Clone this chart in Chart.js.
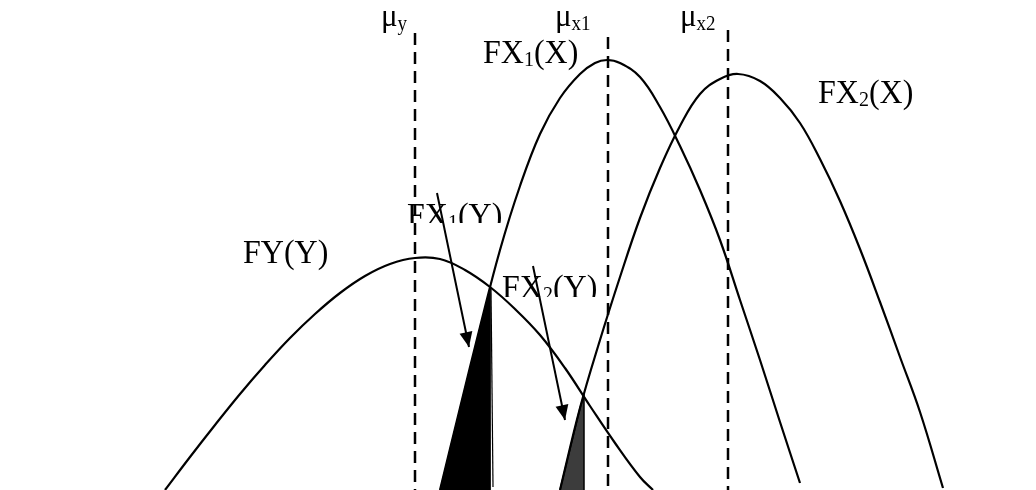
<!DOCTYPE html>
<html>
<head>
<meta charset="utf-8">
<script src="https://cdn.jsdelivr.net/npm/chart.js@4.4.1/dist/chart.umd.min.js"></script>
<style>
html,body{margin:0;padding:0;background:#fff;}
#wrap{width:1036px;height:490px;position:relative;}
</style>
</head>
<body>
<div id="wrap"><canvas id="c"></canvas></div>
<script>
// ---- data (x position, height above the base line) ----
const fyX  = [165, 190, 215, 240, 265, 290, 315, 340, 365, 390, 415, 440, 465, 490, 515, 540, 565, 590, 615, 640, 653];
const fyY  = [0,   33,  65,  96,  125, 152, 176, 197, 214, 226, 232, 231, 220, 203, 181, 155, 122, 84,  47,  13,  0];

const fx1X = [440, 460, 480, 500, 520, 540, 560, 580, 595, 607, 620, 640, 660, 680, 700, 720, 740, 760, 780, 800];
const fx1Y = [0,   82,  163, 240, 304, 356, 392, 416, 427, 430, 427, 413, 383, 344, 300, 250, 190, 130, 68,  7];

const fx2X = [560, 580, 600, 620, 640, 660, 680, 700, 720, 738, 760, 780, 800, 820, 840, 860, 880, 900, 920, 943];
const fx2Y = [0,   82,  150, 213, 272, 322, 364, 396, 411, 416, 409, 392, 367, 331, 289, 241, 188, 133, 78,  2];

// shaded areas: FX1(Y) and FX2(Y)
const area1X = [440, 460, 480, 490, 490];
const area1Y = [0,   82,  163, 202, 0];
const area2X = [560, 580, 584, 584];
const area2Y = [0,   82,  95,  0];

// means
const meanNames = ['y', 'x1', 'x2'];
const meanX     = [415, 608, 728];
const meanTop   = [457, 453, 460];

// arrows (start -> tip)
const arrowStartX = [437, 533];
const arrowStartY = [297, 224];
const arrowTipX   = [469, 565];
const arrowTipY   = [143, 70];

// curve labels: [main, subscript, tail]
const labelParts = [
  ['FX', '1', '(X)'],
  ['FX', '2', '(X)'],
  ['FY', '',  '(Y)'],
  ['FX', '1', '(Y)'],
  ['FX', '2', '(Y)']
];

// ---- annotation placement (not data) ----
const labelPos = [
  {x: 483, y: 427, clipY: null},
  {x: 818, y: 387, clipY: null},
  {x: 243, y: 227, clipY: null},
  {x: 407, y: 264, clipY: 267},
  {x: 502, y: 192, clipY: 193}
];
const meanLabelPos = [
  {x: 381, y: 464},
  {x: 555, y: 464},
  {x: 680, y: 464}
];

const FONT = "'Liberation Serif','Times New Roman',serif";

function pts(xs, ys){ return xs.map((x,i)=>({x:x, y:ys[i]})); }

const datasets = [];
const curveStyle = {showLine:true, pointRadius:0, borderColor:'#000', borderWidth:2.2,
  backgroundColor:'#000', fill:false, tension:0.4};
datasets.push(Object.assign({label:'FY(Y)', data:pts(fyX, fyY)}, curveStyle));
datasets.push(Object.assign({label:'FX1(X)', data:pts(fx1X, fx1Y)}, curveStyle));
datasets.push(Object.assign({label:'FX2(X)', data:pts(fx2X, fx2Y)}, curveStyle));

datasets.push({label:'area1', data:pts(area1X, area1Y), showLine:true, pointRadius:0,
  borderColor:'#000', borderWidth:1, backgroundColor:'#000', fill:'origin', tension:0});
datasets.push({label:'area1edge', data:[{x:491,y:202},{x:493,y:3}], showLine:true, pointRadius:0,
  borderColor:'#000', borderWidth:1.2, fill:false, tension:0});
datasets.push({label:'area2', data:pts(area2X, area2Y), showLine:true, pointRadius:0,
  borderColor:'#000', borderWidth:1.5, backgroundColor:'#3c3c3c', fill:'origin', tension:0});

meanX.forEach((x,i)=>{
  datasets.push({label:'mean '+meanNames[i], data:[{x:x,y:meanTop[i]},{x:x,y:0}], showLine:true,
    pointRadius:0, borderColor:'#000', borderWidth:2.5, borderDash:[12,7], fill:false, tension:0});
});

arrowStartX.forEach((x,i)=>{
  datasets.push({label:'arrow'+i, arrow:true, data:[{x:x,y:arrowStartY[i]},{x:arrowTipX[i],y:arrowTipY[i]}],
    showLine:true, pointRadius:0, borderColor:'#000', borderWidth:2, fill:false, tension:0});
});

function drawRich(ctx, x, y, parts, bigSize, subSize, subDy, scaleY){
  ctx.save();
  ctx.translate(x, y);
  ctx.scale(1, scaleY);
  ctx.fillStyle = '#000';
  ctx.textBaseline = 'alphabetic';
  ctx.textAlign = 'left';
  let cx = 0;
  ctx.font = bigSize + 'px ' + FONT;
  ctx.fillText(parts[0], cx, 0);
  cx += ctx.measureText(parts[0]).width;
  if (parts[1]) {
    ctx.font = subSize + 'px ' + FONT;
    ctx.fillText(parts[1], cx, subDy);
    cx += ctx.measureText(parts[1]).width;
  }
  if (parts[2]) {
    ctx.font = bigSize + 'px ' + FONT;
    ctx.fillText(parts[2], cx, 0);
  }
  ctx.restore();
}

const labelPlugin = {
  id: 'labels',
  beforeDatasetsDraw(chart){
    const ctx = chart.ctx, xs = chart.scales.x, ys = chart.scales.y;
    labelParts.forEach((p,i)=>{
      const pos = labelPos[i];
      const px = xs.getPixelForValue(pos.x), py = ys.getPixelForValue(pos.y);
      ctx.save();
      if (pos.clipY !== null) {
        const cy = ys.getPixelForValue(pos.clipY);
        ctx.beginPath();
        ctx.rect(0, 0, chart.width, cy);
        ctx.clip();
      }
      drawRich(ctx, px, py, p, 32, 20, 3, 1.08);
      ctx.restore();
    });
    meanNames.forEach((n,i)=>{
      const pos = meanLabelPos[i];
      const px = xs.getPixelForValue(pos.x), py = ys.getPixelForValue(pos.y);
      drawRich(ctx, px, py, ['\u03bc', n, ''], 31, 19, 4, 1.05);
    });
  },
  afterDatasetsDraw(chart){
    const ctx = chart.ctx;
    chart.data.datasets.forEach((ds,i)=>{
      if (!ds.arrow) return;
      const meta = chart.getDatasetMeta(i);
      const a = meta.data[0], b = meta.data[meta.data.length-1];
      const ang = Math.atan2(b.y - a.y, b.x - a.x);
      const len = 15, half = 6.5;
      ctx.save();
      ctx.translate(b.x, b.y);
      ctx.rotate(ang);
      ctx.beginPath();
      ctx.moveTo(0, 0);
      ctx.lineTo(-len, -half);
      ctx.lineTo(-len, half);
      ctx.closePath();
      ctx.fillStyle = '#000';
      ctx.fill();
      ctx.restore();
    });
  }
};

new Chart(document.getElementById('c'), {
  type: 'scatter',
  data: {datasets: datasets},
  options: {
    responsive: true,
    maintainAspectRatio: false,
    animation: false,
    layout: {padding: 0},
    plugins: {legend:{display:false}, tooltip:{enabled:false}},
    scales: {
      x: {type:'linear', min:0, max:1036, display:false},
      y: {type:'linear', min:0, max:490, display:false}
    }
  },
  plugins: [labelPlugin]
});
</script>
</body>
</html>
